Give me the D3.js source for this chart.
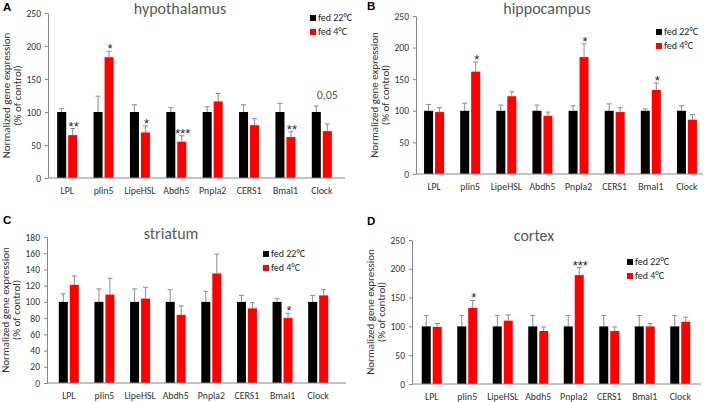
<!DOCTYPE html>
<html><head><meta charset="utf-8">
<script src="https://cdn.jsdelivr.net/npm/d3@7"></script>
<style>
body{margin:0;background:#fff}
svg text{font-family:Carlito, Calibri, Lato, "Liberation Sans", sans-serif}
</style>
</head><body><svg id="chart" width="708" height="402"></svg>
<script>
// ---------- data ----------
const categories = ["LPL","plin5","LipeHSL","Abdh5","Pnpla2","CERS1","Bmal1","Clock"];
const seriesNames = ["fed 22°C","fed 4°C"];
const ticks250 = [0,50,100,150,200,250];
const ticks180 = [0,20,40,60,80,100,120,140,160,180];

// A: hypothalamus
const hypoWarm    = [100,100,100,100,100,100,100,100];
const hypoWarmErr = [5,24,11,7,8,11,13,9];
const hypoCold    = [65,183,69,55,116,80,62,71];
const hypoColdErr = [10,9,10,9,12,10,8,11];
const hypoSig     = ["**","*","*","***","","","**","0,05"];

// B: hippocampus
const hippoWarm    = [100,100,100,100,100,100,100,100];
const hippoWarmErr = [10,12,9,9,8,11,3,8];
const hippoCold    = [98,162,123,92,185,98,133,86];
const hippoColdErr = [7,15,7,6,21,7,11,8];
const hippoSig     = ["","*","","","*","","*",""];

// C: striatum
const striWarm    = [100,100,100,100,100,100,100,100];
const striWarmErr = [10,16,16,15,13,8,4,8];
const striCold    = [121,109,104,84,135,92,80,108];
const striColdErr = [11,20,14,11,24,7,6,7];
const striSig     = ["","","","","","","*",""];

// D: cortex
const cortWarm    = [100,100,100,100,100,100,100,100];
const cortWarmErr = [19,19,19,19,19,19,19,19];
const cortCold    = [99,132,110,92,189,92,100,108];
const cortColdErr = [6,13,10,7,13,7,5,8];
const cortSig     = ["","*","","","***","","",""];

// ---------- layout ----------
const panels = [
  {letter:"A", lx:3,   ly:11,  title:"hypothalamus", tx:180, ty:14,
   axisX:48,  axisEnd:345, b0:49,  b1:340, yTop:13,  yBot:178, max:250, ticks:ticks250,
   legX:310, legY:15,
   warm:hypoWarm, warmErr:hypoWarmErr, cold:hypoCold, coldErr:hypoColdErr, sig:hypoSig},
  {letter:"B", lx:367, ly:10,  title:"hippocampus", tx:547, ty:14,
   axisX:416, axisEnd:703, b0:416, b1:705, yTop:16,  yBot:174, max:250, ticks:ticks250,
   legX:656, legY:29,
   warm:hippoWarm, warmErr:hippoWarmErr, cold:hippoCold, coldErr:hippoColdErr, sig:hippoSig},
  {letter:"C", lx:3,   ly:224, title:"striatum", tx:171, ty:239,
   axisX:47,  axisEnd:346, b0:51,  b1:336, yTop:237, yBot:383, max:180, ticks:ticks180,
   legX:263, legY:251,
   warm:striWarm, warmErr:striWarmErr, cold:striCold, coldErr:striColdErr, sig:striSig},
  {letter:"D", lx:367, ly:225, title:"cortex", tx:534, ty:241,
   axisX:412, axisEnd:701, b0:414, b1:698, yTop:240, yBot:384, max:250, ticks:ticks250,
   legX:627, legY:259,
   warm:cortWarm, warmErr:cortWarmErr, cold:cortCold, coldErr:cortColdErr, sig:cortSig}
];

const colors = ["#000000","#ff0000"];
const axisColor = "#868686";
const textColor = "#333333";
const errColor = "#8c8c8c";

const svg = d3.select("#chart");
svg.append("rect").attr("width",708).attr("height",402).attr("fill","#fff");

panels.forEach(p => {
  const g = svg.append("g");
  const y = d3.scaleLinear().domain([0,p.max]).range([p.yBot,p.yTop]);
  const x = d3.scaleBand().domain(categories).range([p.b0,p.b1]).padding(0);
  const bw = x.bandwidth();
  const xs = d3.scaleBand().domain(seriesNames).range([bw/2-10, bw/2+10]).paddingInner(0.18);

  // y axis
  const yAxis = d3.axisLeft(y).tickValues(p.ticks).tickSize(3).tickPadding(4).tickSizeOuter(0);
  const ya = g.append("g").attr("transform",`translate(${p.axisX},0)`).call(yAxis);
  ya.select(".domain").attr("stroke",axisColor);
  ya.selectAll(".tick line").attr("stroke",axisColor);
  ya.selectAll(".tick text").attr("fill",textColor).attr("font-size",9.5)
    .style("font-family","Carlito, Calibri, Lato, sans-serif");

  // bars
  const rows = categories.map((c,i)=>({c, vals:[
    {s:seriesNames[0], v:p.warm[i], e:p.warmErr[i], col:colors[0]},
    {s:seriesNames[1], v:p.cold[i], e:p.coldErr[i], col:colors[1]}], sig:p.sig[i]}));

  const grp = g.selectAll(".grp").data(rows).enter().append("g")
    .attr("transform",d=>`translate(${x(d.c)},0)`);
  grp.selectAll(".err").data(d=>d.vals).enter().append("path")
    .attr("d",d=>{
      const cx = xs(d.s)+xs.bandwidth()/2;
      const t = y(d.v+d.e);
      return `M${cx},${y(d.v)}V${t}M${cx-2.5},${t}H${cx+2.5}`;
    })
    .attr("stroke",errColor).attr("stroke-width",1).attr("fill","none");
  grp.selectAll(".bar").data(d=>d.vals).enter().append("rect")
    .attr("x",d=>xs(d.s)).attr("width",xs.bandwidth())
    .attr("y",d=>y(d.v)).attr("height",d=>y(0)-y(d.v))
    .attr("fill",d=>d.col);

  // significance
  const isStar = s => s.startsWith("*");
  grp.filter(d=>d.sig).append("text")
    .attr("x",d=>xs(seriesNames[1])+xs.bandwidth()/2 + (isStar(d.sig)?1:0))
    .attr("y",d=>{
      const red = d.vals[1];
      if (isStar(d.sig)) return y(red.v+red.e)+2;
      const top = Math.max(...d.vals.map(v=>v.v+v.e));
      return y(top)-7;
    })
    .attr("text-anchor","middle")
    .attr("font-size",d=>isStar(d.sig)?13:12)
    .style("font-family",d=>isStar(d.sig)?"'Liberation Sans', Arial, sans-serif":"Carlito, Calibri, Lato, sans-serif")
    .attr("fill",d=>isStar(d.sig)?"#262626":"#595959")
    .text(d=>d.sig);

  // x axis line
  g.append("line").attr("x1",p.axisX).attr("x2",p.axisEnd)
    .attr("y1",y(0)).attr("y2",y(0)).attr("stroke",axisColor);
  // category labels
  g.selectAll(".cat").data(categories).enter().append("text")
    .attr("x",d=>x(d)+bw/2).attr("y",y(0)+16)
    .attr("text-anchor","middle").attr("font-size",9.8).attr("fill",textColor)
    .text(d=>d);

  // y label
  const cy = (p.yTop+p.yBot)/2;
  g.append("text").attr("transform",`translate(${p.axisX-38},${cy}) rotate(-90)`)
    .attr("text-anchor","middle").attr("font-size",11).attr("fill",textColor)
    .text("Normalized gene expression");
  g.append("text").attr("transform",`translate(${p.axisX-27.5},${cy}) rotate(-90)`)
    .attr("text-anchor","middle").attr("font-size",11).attr("fill",textColor)
    .text("(% of control)");

  // title
  g.append("text").attr("x",p.tx).attr("y",p.ty).attr("text-anchor","middle")
    .attr("font-size",16).attr("fill","#595959").text(p.title);

  // legend
  const leg = g.selectAll(".leg").data(seriesNames).enter().append("g")
    .attr("transform",(d,i)=>`translate(${p.legX},${p.legY+i*14})`);
  leg.append("rect").attr("width",6).attr("height",6).attr("fill",(d,i)=>colors[i]);
  leg.append("text").attr("x",8).attr("y",6).attr("font-size",10).attr("fill","#262626").text(d=>d);

  // panel letter
  g.append("text").attr("x",p.lx).attr("y",p.ly).attr("font-size",11.5).attr("font-weight","bold")
    .style("font-family","Arial, 'Liberation Sans', sans-serif").attr("fill","#000").text(p.letter);
});
</script>
</body></html>
